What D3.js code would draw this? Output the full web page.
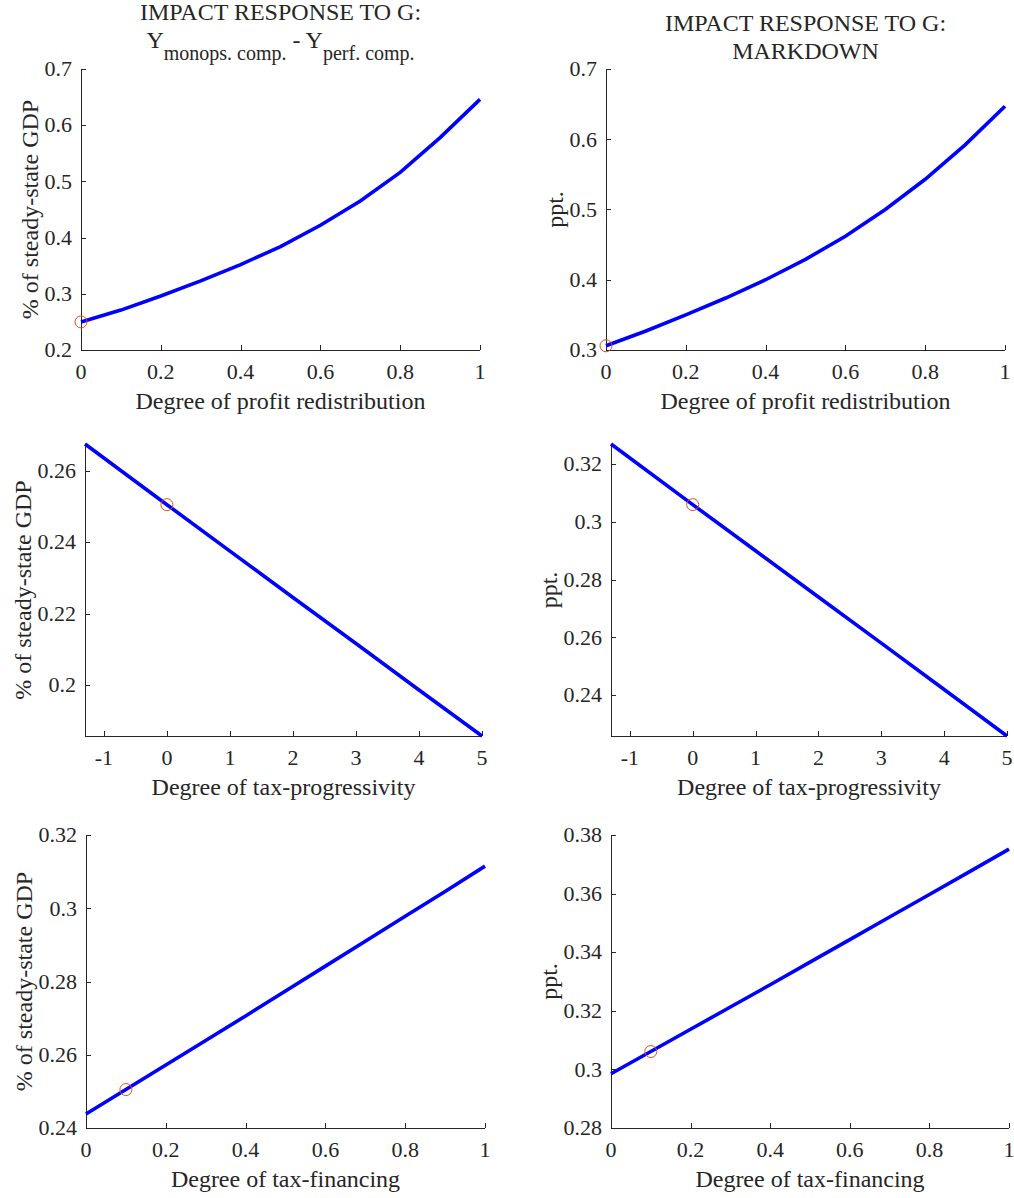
<!DOCTYPE html>
<html>
<head>
<meta charset="utf-8">
<script src="https://cdn.jsdelivr.net/npm/d3@7"></script>
<style>
  html, body { margin: 0; padding: 0; background: #fff; }
  svg { display: block; }
</style>
</head>
<body>
<svg id="chart" width="1014" height="1198" font-family="'Liberation Serif', 'DejaVu Serif', serif"></svg>
<script>
// Impact response of output gap and markdown to a government spending shock,
// along three policy dimensions.

// Degree of profit redistribution
const redistX        = [0, 0.1, 0.2, 0.3, 0.4, 0.5, 0.6, 0.7, 0.8, 0.9, 1.0];
const redistOutput   = [0.250, 0.271, 0.296, 0.323, 0.352, 0.384, 0.422, 0.465, 0.516, 0.578, 0.646];
const redistMarkdown = [0.306, 0.327, 0.350, 0.374, 0.400, 0.429, 0.462, 0.500, 0.543, 0.592, 0.647];

// Degree of tax-progressivity
const progX        = [-1.3, 0, 1, 2, 3, 4, 5];
const progOutput   = [0.2675, 0.2505, 0.2375, 0.2245, 0.2116, 0.1986, 0.1857];
const progMarkdown = [0.3270, 0.3060, 0.2900, 0.2740, 0.2580, 0.2419, 0.2258];

// Degree of tax-financing
const finX        = [0, 0.1, 0.2, 0.3, 0.4, 0.5, 0.6, 0.7, 0.8, 0.9, 1.0];
const finOutput   = [0.2438, 0.2505, 0.2572, 0.2639, 0.2706, 0.2774, 0.2842, 0.2910, 0.2978, 0.3046, 0.3115];
const finMarkdown = [0.2985, 0.3061, 0.3137, 0.3213, 0.3289, 0.3366, 0.3443, 0.3520, 0.3597, 0.3674, 0.3752];

// Baseline calibration point on each curve
const baseX        = [0, 0, 0.1];
const baseOutput   = [0.250, 0.2505, 0.2505];
const baseMarkdown = [0.306, 0.306, 0.3061];

// Axis ranges and ticks
const xDomains = [[0, 1], [-1.3, 5], [0, 1]];
const xTicks = [
  [0, 0.2, 0.4, 0.6, 0.8, 1],
  [-1, 0, 1, 2, 3, 4, 5],
  [0, 0.2, 0.4, 0.6, 0.8, 1]
];
const yDomainsOutput   = [[0.2, 0.7], [0.1857, 0.2675], [0.24, 0.32]];
const yDomainsMarkdown = [[0.3, 0.7], [0.2258, 0.327], [0.28, 0.38]];
const yTicksOutput = [
  [0.2, 0.3, 0.4, 0.5, 0.6, 0.7],
  [0.2, 0.22, 0.24, 0.26],
  [0.24, 0.26, 0.28, 0.3, 0.32]
];
const yTicksMarkdown = [
  [0.3, 0.4, 0.5, 0.6, 0.7],
  [0.24, 0.26, 0.28, 0.3, 0.32],
  [0.28, 0.3, 0.32, 0.34, 0.36, 0.38]
];
const xLabels = ["Degree of profit redistribution", "Degree of tax-progressivity", "Degree of tax-financing"];
const yLabelOutput = "% of steady-state GDP";
const yLabelMarkdown = "ppt.";

// Panel boxes: [left, right, top, bottom]
const boxes = [
  [[81, 480, 69, 350],  [606, 1005, 69, 350]],
  [[85, 482, 444, 736], [611, 1007, 444, 736]],
  [[86, 485, 835, 1128],[611, 1009, 835, 1128]]
];

const svg = d3.select("#chart");
const AX = "#262626";
const FONT = "'Liberation Serif', 'DejaVu Serif', serif";
const fmt = v => String(+v.toFixed(4));

function label(sel) {
  return sel.append("text").attr("font-family", FONT).attr("fill", AX);
}

function panel(box, xd, xt, yd, yt, xs, ys, mx, my, xlabel, ylabel) {
  const [l, r, t, b] = box;
  const x = d3.scaleLinear().domain(xd).range([l, r]);
  const y = d3.scaleLinear().domain(yd).range([b, t]);
  const g = svg.append("g");

  // axis lines
  g.append("line").attr("x1", l).attr("x2", r).attr("y1", b + 0.5).attr("y2", b + 0.5)
    .attr("stroke", AX).attr("stroke-width", 1);
  g.append("line").attr("x1", l + 0.5).attr("x2", l + 0.5).attr("y1", t).attr("y2", b)
    .attr("stroke", AX).attr("stroke-width", 1);

  // x ticks (pointing inward)
  xt.forEach(v => {
    const px = Math.round(x(v)) + 0.5;
    g.append("line").attr("x1", px).attr("x2", px).attr("y1", b).attr("y2", b - 5)
      .attr("stroke", AX);
    label(g).attr("x", x(v)).attr("y", b + 29).attr("text-anchor", "middle")
      .attr("font-size", 22).text(fmt(v));
  });

  // y ticks
  let maxW = 0;
  yt.forEach(v => {
    const py = Math.round(y(v)) + 0.5;
    g.append("line").attr("x1", l).attr("x2", l + 5).attr("y1", py).attr("y2", py)
      .attr("stroke", AX);
    const tx = label(g).attr("x", l - 9).attr("y", y(v)).attr("dy", "0.33em")
      .attr("text-anchor", "end").attr("font-size", 22).text(fmt(v));
    maxW = Math.max(maxW, tx.node().getComputedTextLength());
  });

  // response curve
  const pts = xs.map((v, i) => [v, ys[i]]);
  g.append("path").datum(pts)
    .attr("fill", "none").attr("stroke", "#0000ff").attr("stroke-width", 3.6)
    .attr("d", d3.line().x(d => x(d[0])).y(d => y(d[1])));

  // baseline marker
  g.append("circle").attr("cx", x(mx)).attr("cy", y(my)).attr("r", 6)
    .attr("fill", "none").attr("stroke", "#d95319").attr("stroke-width", 1);

  // axis labels
  label(g).attr("x", (l + r) / 2).attr("y", b + 59).attr("text-anchor", "middle")
    .attr("font-size", 24).text(xlabel);
  const yx = l - 9 - maxW - 7;
  label(g).attr("transform", `translate(${yx},${(t + b) / 2}) rotate(-90)`)
    .attr("text-anchor", "middle").attr("font-size", 24).text(ylabel);
}

for (let row = 0; row < 3; row++) {
  const xsArr = [redistX, progX, finX][row];
  const outArr = [redistOutput, progOutput, finOutput][row];
  const mdArr = [redistMarkdown, progMarkdown, finMarkdown][row];
  panel(boxes[row][0], xDomains[row], xTicks[row], yDomainsOutput[row], yTicksOutput[row],
        xsArr, outArr, baseX[row], baseOutput[row], xLabels[row], yLabelOutput);
  panel(boxes[row][1], xDomains[row], xTicks[row], yDomainsMarkdown[row], yTicksMarkdown[row],
        xsArr, mdArr, baseX[row], baseMarkdown[row], xLabels[row], yLabelMarkdown);
}

// Titles
const lc = (boxes[0][0][0] + boxes[0][0][1]) / 2;
const rc = (boxes[0][1][0] + boxes[0][1][1]) / 2;
label(svg).attr("x", lc).attr("y", 20).attr("text-anchor", "middle")
  .attr("font-size", 24).text("IMPACT RESPONSE TO G:");
const t2 = label(svg).attr("x", lc).attr("y", 48).attr("text-anchor", "middle")
  .attr("font-size", 24);
t2.append("tspan").text("Y");
t2.append("tspan").attr("font-size", 20).attr("dy", 12).text("monops. comp.");
t2.append("tspan").attr("dy", -12).text(" - Y");
t2.append("tspan").attr("font-size", 20).attr("dy", 12).text("perf. comp.");

label(svg).attr("x", rc).attr("y", 31).attr("text-anchor", "middle")
  .attr("font-size", 24).text("IMPACT RESPONSE TO G:");
label(svg).attr("x", rc).attr("y", 59).attr("text-anchor", "middle")
  .attr("font-size", 24).text("MARKDOWN");
</script>
</body>
</html>
